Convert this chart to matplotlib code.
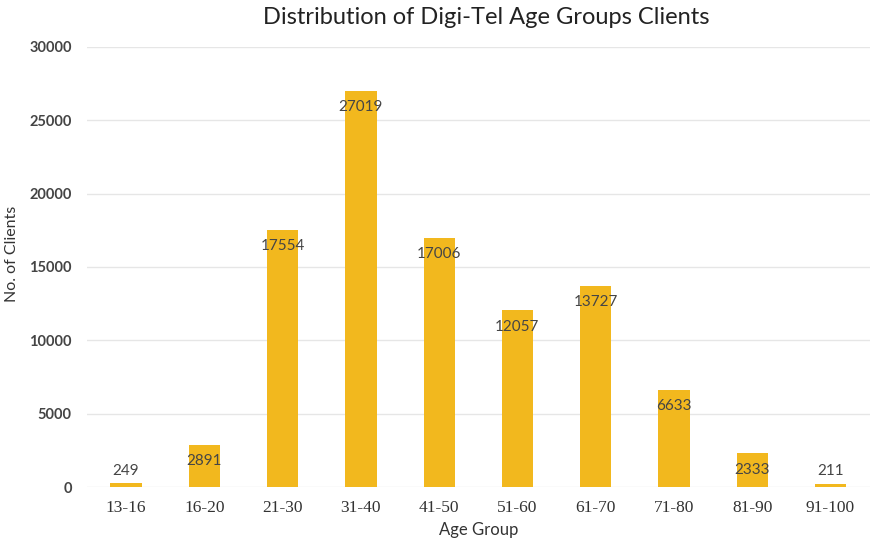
import matplotlib.pyplot as plt

# Client counts per age group
age_groups = ['13-16', '16-20', '21-30', '31-40', '41-50',
              '51-60', '61-70', '71-80', '81-90', '91-100']
clients = [249, 2891, 17554, 27019, 17006, 12057, 13727, 6633, 2333, 211]
y_ticks = [0, 5000, 10000, 15000, 20000, 25000, 30000]

bar_color = '#F2B81E'
text_color = '#454545'

fig = plt.figure(figsize=(8.74, 5.45), dpi=100)
ax = fig.add_axes([0.0995, 0.1064, 0.8955, 0.8074])

x = range(len(age_groups))
ax.bar(x, clients, width=0.4, color=bar_color, zorder=2)

# value labels: inside the bar top, above it for the tiny bars
for xi, v in zip(x, clients):
    if v < 1000:
        ax.annotate(str(v), (xi, v), xytext=(0, 4), textcoords='offset points',
                    ha='center', va='bottom', fontsize=11, color=text_color,
                    family='Lato')
    else:
        ax.annotate(str(v), (xi, v), xytext=(0, -7), textcoords='offset points',
                    ha='center', va='top', fontsize=11, color=text_color,
                    family='Lato')

ax.set_xlim(-0.5, len(age_groups) - 0.5)
ax.set_ylim(0, 30000)
ax.set_yticks(y_ticks)
ax.set_xticks(list(x))
ax.set_xticklabels(age_groups, family='Liberation Serif', fontsize=12.5,
                   color='#333333')
for lbl in ax.get_yticklabels():
    lbl.set_family('Lato')
    lbl.set_fontsize(10.5)
    lbl.set_fontweight('bold')
    lbl.set_color('#444444')

ax.tick_params(axis='both', length=0)
ax.tick_params(axis='y', pad=11)
ax.tick_params(axis='x', pad=9)
ax.grid(axis='y', color='#E6E6E6', linewidth=1, zorder=0)
for s in ax.spines.values():
    s.set_visible(False)

ax.set_xlabel('Age Group', family='Lato', fontsize=12, color='#333333',
              labelpad=5)
ax.set_ylabel('No. of Clients', family='Lato', fontsize=11.5, color='#333333',
              labelpad=2)
ax.yaxis.set_label_coords(-0.087, 0.53)
fig.suptitle('Distribution of Digi-Tel Age Groups Clients', family='Lato',
             fontsize=17, color='#222222', x=0.556, y=0.988)

fig.savefig('out.png', dpi=100, facecolor='white')
